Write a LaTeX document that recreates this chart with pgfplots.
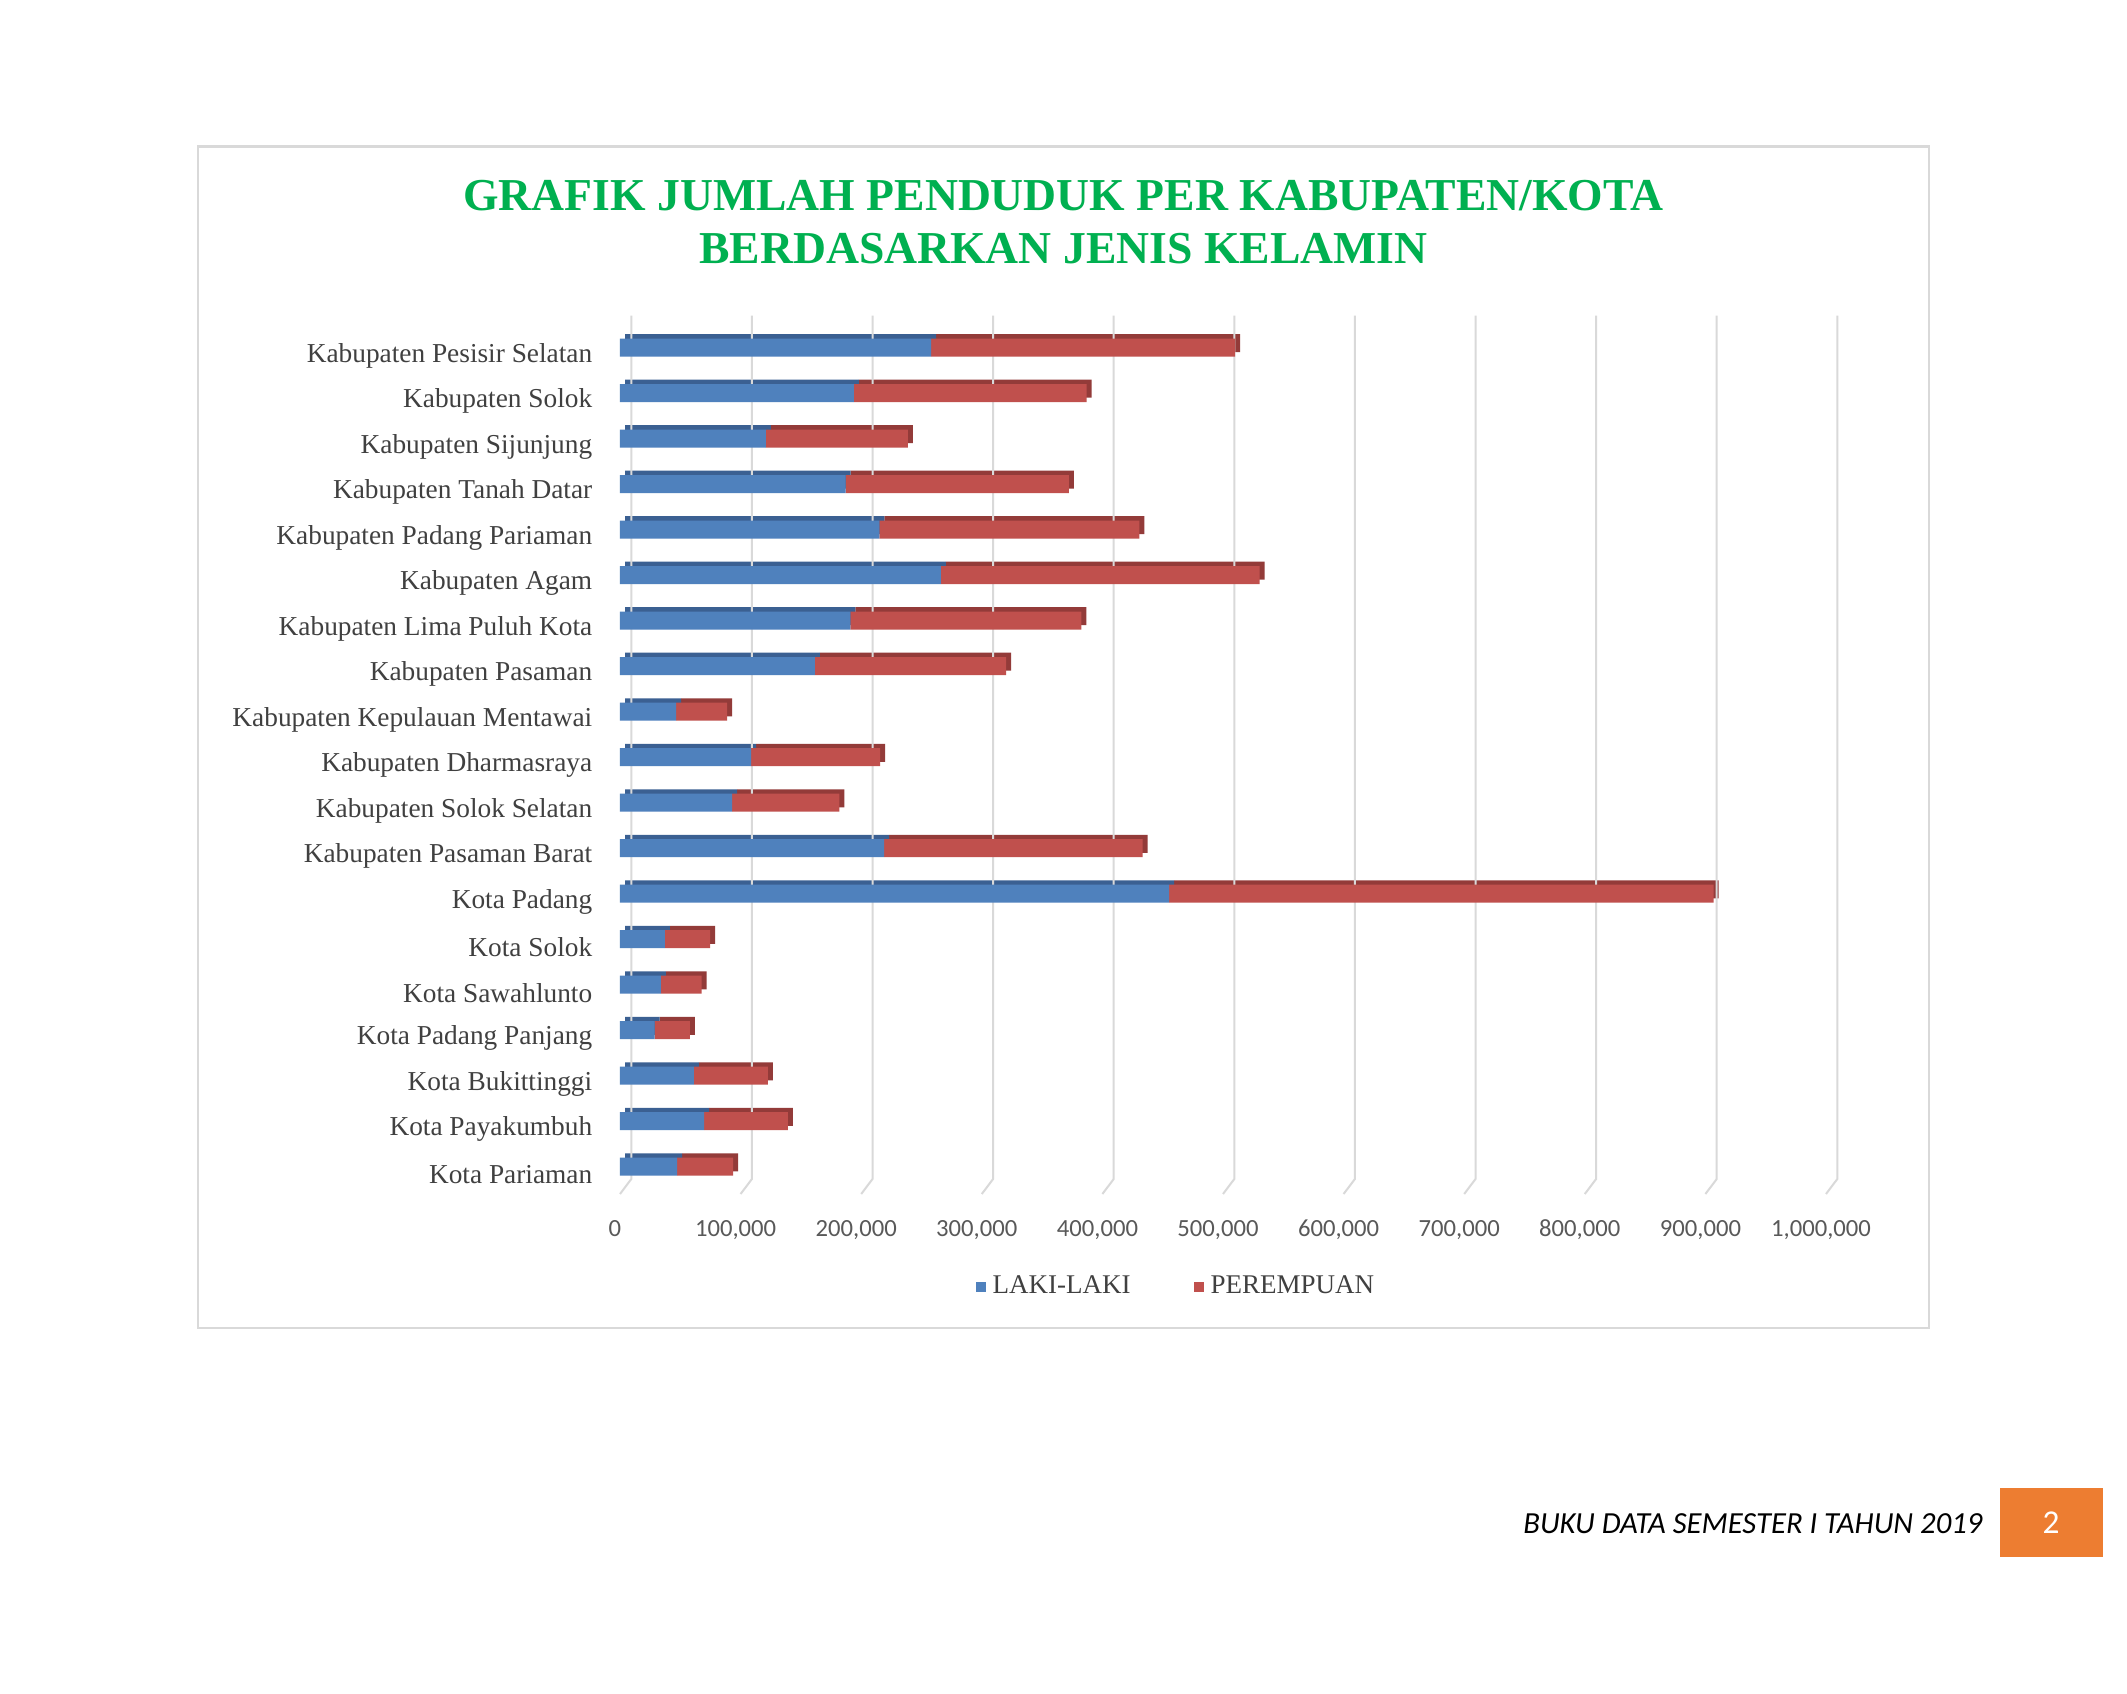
\documentclass[border=0pt]{standalone}
\usepackage{pgfplots}
\pgfplotsset{compat=1.18}
\usepackage{pgfplotstable}
\usepackage{fontspec}
\setmainfont{Liberation Serif}
\newfontfamily\carlito{Carlito}
\definecolor{lk}{HTML}{4F81BD}
\definecolor{pr}{HTML}{C0504D}
\definecolor{lkd}{HTML}{3B6092}
\definecolor{prd}{HTML}{933B39}
\definecolor{ttl}{HTML}{00B050}
\definecolor{lbl}{HTML}{404040}
\definecolor{tkl}{HTML}{595959}
\definecolor{grd}{HTML}{D9D9D9}
\definecolor{org}{HTML}{ED7D31}

\pgfplotstableread{
idx L P
0 258000 252000
1 194000 193000
2 121000 117600
3 187000 185200
4 215000 215600
5 266000 264300
6 191000 191600
7 161500 158600
8 46500 42300
9 108700 106900
10 93000 88800
11 219000 214400
12 455400 451400
13 37200 37600
14 33800 33800
15 28800 29100
16 61300 61300
17 69800 69300
18 47400 46500
}\data

\pgfplotsset{base/.style={scale only axis, width=361.8pt, height=263.5pt,
  xmin=0, xmax=1000000, ymin=-0.7, ymax=18.6, y dir=reverse,
  xbar stacked, bar width=5.4pt, axis line style={draw=none},
  major tick length=0pt, clip=false}}

\begin{document}
\begin{tikzpicture}
\useasboundingbox (0,0) rectangle (638.1pt,508.2pt);
\fill[white] (0,0) rectangle (638.1pt,508.2pt);
% chart frame
\draw[grd, line width=0.7pt] (59.4pt,109.8pt) rectangle (578.7pt,464.25pt);
% title
\node[anchor=base, text=ttl, font=\fontsize{13.7}{16}\selectfont\bfseries, inner sep=0pt] at (319pt,445.1pt) {GRAFIK JUMLAH PENDUDUK PER KABUPATEN/KOTA};
\node[anchor=base, text=ttl, font=\fontsize{13.7}{16}\selectfont\bfseries, inner sep=0pt] at (319pt,429.2pt) {BERDASARKAN JENIS KELAMIN};

% back layer: gridlines and dark 3D faces
\begin{axis}[base, at={(187.5pt,151.3pt)}, anchor=south west, xtick=\empty, ytick=\empty]
\pgfplotsinvokeforeach{0,100000,200000,300000,400000,500000,600000,700000,800000,900000,1000000}{
  \draw[grd, line width=0.6pt] ([xshift=1.9pt,yshift=-1.3pt]axis cs:#1,-0.7) -- ([xshift=1.9pt,yshift=-1.3pt]axis cs:#1,18.27) -- ([xshift=-1.5pt,yshift=-1.3pt]axis cs:#1,18.6);
}
\addplot[fill=lkd, draw=none, forget plot] table[x=L, y=idx] {\data};
\addplot[fill=prd, draw=none, forget plot] table[x=P, y=idx] {\data};
\end{axis}

% front faces
\begin{axis}[base, at={(186pt,150pt)}, anchor=south west,
  xtick={0,100000,200000,300000,400000,500000,600000,700000,800000,900000,1000000},
  scaled x ticks=false,
  xticklabel style={font=\carlito\fontsize{7.4}{9}\selectfont, text=tkl,
    /pgf/number format/fixed, /pgf/number format/1000 sep={,},
    /pgf/number format/assume math mode=true, yshift=-4.3pt, xshift=-1.5pt},
  ytick={0,...,18},
  yticklabels={Kabupaten Pesisir Selatan, Kabupaten Solok\ , Kabupaten Sijunjung\ , Kabupaten Tanah Datar, Kabupaten Padang Pariaman, Kabupaten Agam, Kabupaten Lima Puluh Kota, Kabupaten Pasaman, Kabupaten Kepulauan Mentawai, Kabupaten Dharmasraya, Kabupaten Solok Selatan, Kabupaten Pasaman Barat, Kota Padang, Kota Solok, Kota Sawahlunto, Kota Padang Panjang, Kota Bukittinggi, Kota Payakumbuh, Kota Pariaman},
  yticklabel style={font=\fontsize{8.2}{10}\selectfont, text=lbl, xshift=-4.8pt, yshift=-2.4pt},
  legend style={at={(0.463,-0.1056)}, anchor=center, draw=none, fill=none,
    legend columns=2, font=\fontsize{8.1}{9}\selectfont, text=lbl,
    /tikz/every even column/.append style={column sep=17pt}},
  legend image code/.code={\fill[#1] (0pt,-1.5pt) rectangle (3pt,1.5pt);}
]
\addplot[fill=lk, draw=none] table[x=L, y=idx] {\data};
\addplot[fill=pr, draw=none] table[x=P, y=idx] {\data};
\legend{LAKI-LAKI, PEREMPUAN}
\end{axis}

% footer
\node[anchor=base east, font=\carlito\itshape\fontsize{9.2}{11}\selectfont, inner sep=0pt] at (594.9pt,48.2pt) {BUKU DATA SEMESTER I TAHUN 2019};
\fill[org] (599.85pt,41.1pt) rectangle (630.8pt,61.8pt);
\node[font=\carlito\fontsize{10}{12}\selectfont, text=white] at (615.3pt,51.4pt) {2};
\end{tikzpicture}
\end{document}
